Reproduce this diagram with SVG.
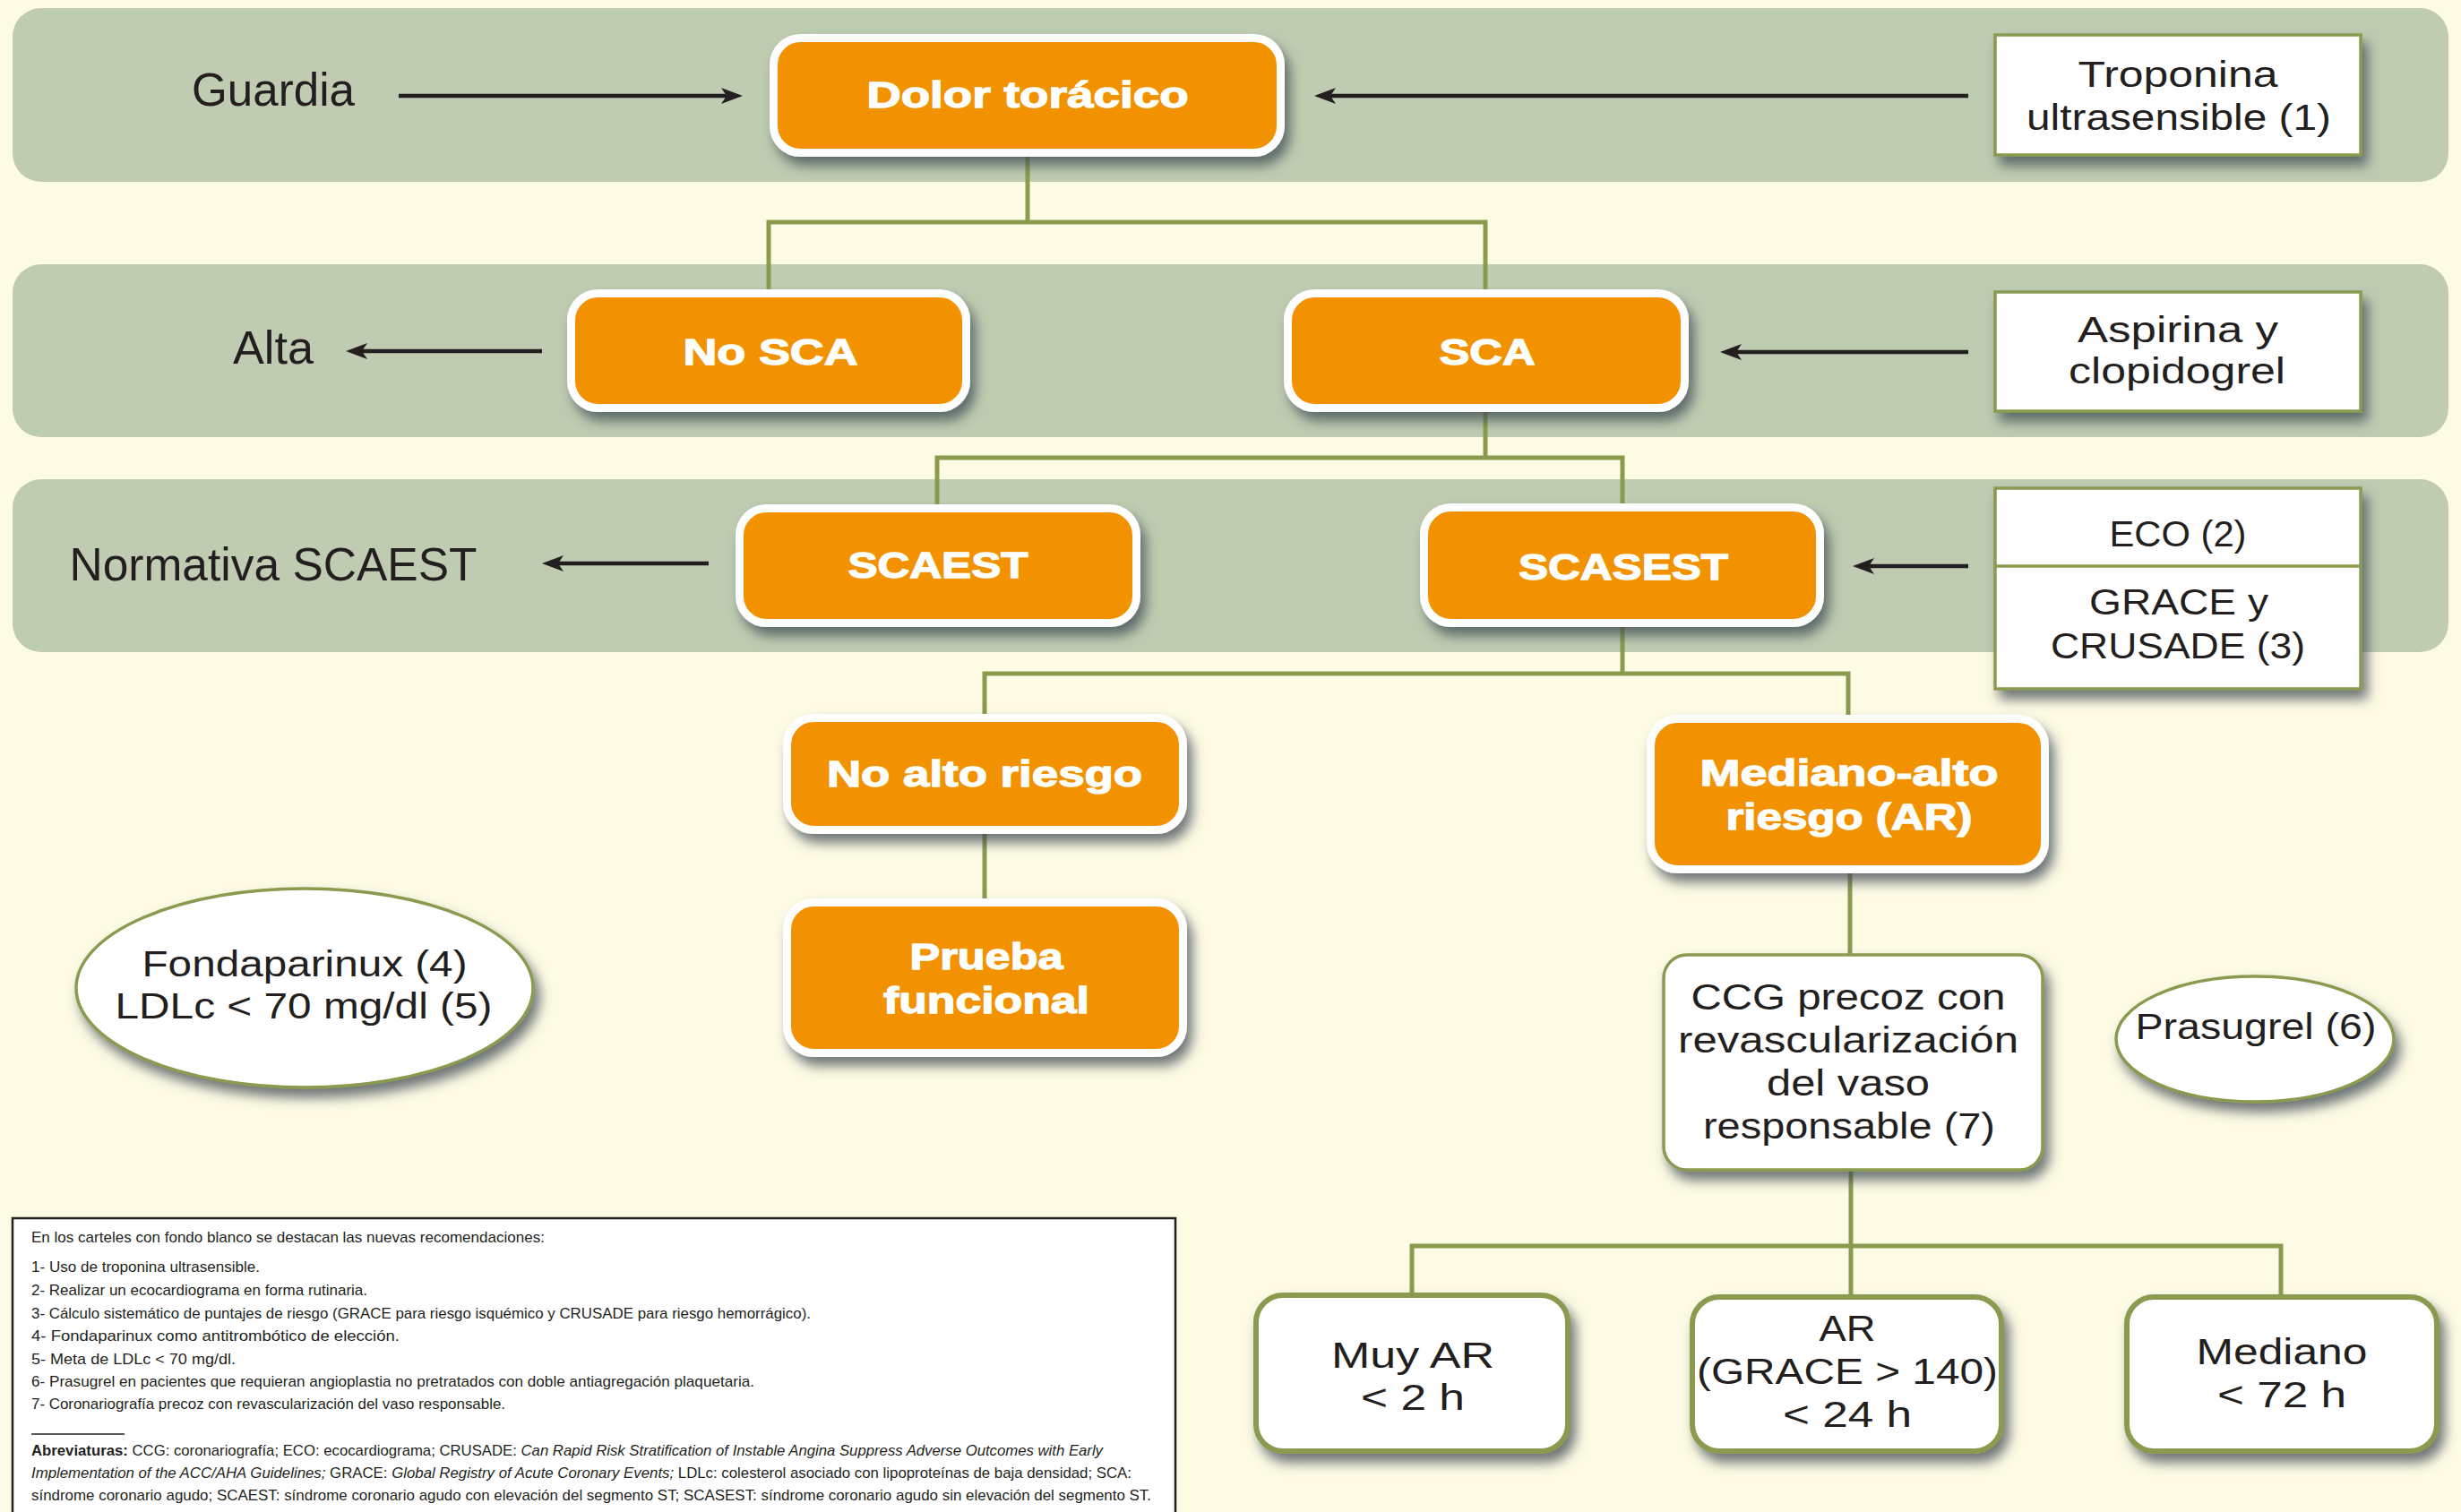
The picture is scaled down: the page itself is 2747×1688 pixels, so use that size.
<svg xmlns="http://www.w3.org/2000/svg" width="2747" height="1688" viewBox="0 0 2747 1688">
<defs>
<style>
.band{fill:#BFCCB1}
.ob{fill:#F29200;stroke:#FFFFFF;stroke-width:9}
.ot{font-family:"Liberation Sans",Arial,sans-serif;font-weight:bold;font-size:41px;fill:#FFFFFF;stroke:#FFFFFF;stroke-width:1.3;text-anchor:middle}
.wb{fill:#FFFFFF;stroke:#8A9B4F;stroke-width:3.5}
.wb2{fill:#FFFFFF;stroke:#8A9B4F;stroke-width:6}
.wt{font-family:"Liberation Sans",Arial,sans-serif;font-size:40px;fill:#231F20;text-anchor:middle}
.lab{font-family:"Liberation Sans",Arial,sans-serif;font-size:52px;fill:#231F20;text-anchor:middle}
.con{fill:none;stroke:#8A9B4F;stroke-width:5}
.arr{fill:none;stroke:#231F20;stroke-width:4.5}
.fn{font-family:"Liberation Sans",Arial,sans-serif;font-size:17px;fill:#231F20}
</style>
<filter id="sh" x="-10%" y="-15%" width="125%" height="145%">
<feDropShadow dx="6" dy="10" stdDeviation="7" flood-color="#3d4b52" flood-opacity="0.75"/>
</filter>
<marker id="ah" markerUnits="userSpaceOnUse" markerWidth="26" markerHeight="20" refX="12" refY="9" orient="auto">
<path d="M0,0 L24,9 L0,18 L6,9 z" fill="#231F20"/>
</marker>
</defs>
<rect x="0" y="0" width="2747" height="1688" fill="#FEFBE5"/>
<g id="bands">
<rect class="band" x="14" y="9" width="2719" height="194" rx="32"/>
<rect class="band" x="14" y="295" width="2719" height="193" rx="32"/>
<rect class="band" x="14" y="535" width="2719" height="193" rx="32"/>
</g>
<g id="connectors">
<path class="con" d="M1147,175 V248 M858,323 V248 H1658 V323"/>
<path class="con" d="M1658,460 V511 M1046,563 V511 H1811 V562"/>
<path class="con" d="M1811,700 V752 M1099,797 V752 H2063 V798"/>
<path class="con" d="M1099,931 V1003"/>
<path class="con" d="M2065,975 V1066"/>
<path class="con" d="M2066,1306 V1445 M1576,1443 V1391 H2546 V1445"/>
<line class="arr" x1="445" y1="107" x2="817" y2="107" marker-end="url(#ah)"/>
<line class="arr" x1="2197" y1="107" x2="1479" y2="107" marker-end="url(#ah)"/>
<line class="arr" x1="605" y1="392" x2="398" y2="392" marker-end="url(#ah)"/>
<line class="arr" x1="2197" y1="393" x2="1932" y2="393" marker-end="url(#ah)"/>
<line class="arr" x1="791" y1="629" x2="617" y2="629" marker-end="url(#ah)"/>
<line class="arr" x1="2197" y1="632" x2="2080" y2="632" marker-end="url(#ah)"/>
</g>
<g id="label-guardia"><text class="lab" x="305" y="118" textLength="182" lengthAdjust="spacingAndGlyphs">Guardia</text></g>
<g id="label-alta"><text class="lab" x="305" y="406" textLength="90" lengthAdjust="spacingAndGlyphs">Alta</text></g>
<g id="label-normativa"><text class="lab" x="305" y="648" textLength="455" lengthAdjust="spacingAndGlyphs">Normativa SCAEST</text></g>
<g id="dolor">
<rect class="ob" x="863.5" y="42.5" width="566" height="128" rx="30" filter="url(#sh)"/>
<text class="ot" x="1147" y="120" textLength="359" lengthAdjust="spacingAndGlyphs">Dolor torácico</text>
</g>
<g id="nosca">
<rect class="ob" x="637.5" y="327.5" width="441" height="128" rx="30" filter="url(#sh)"/>
<text class="ot" x="860" y="407" textLength="195" lengthAdjust="spacingAndGlyphs">No SCA</text>
</g>
<g id="sca">
<rect class="ob" x="1437.5" y="327.5" width="443" height="128" rx="30" filter="url(#sh)"/>
<text class="ot" x="1660" y="407" textLength="107" lengthAdjust="spacingAndGlyphs">SCA</text>
</g>
<g id="scaest">
<rect class="ob" x="825.5" y="567.5" width="443" height="128" rx="30" filter="url(#sh)"/>
<text class="ot" x="1047" y="645" textLength="201" lengthAdjust="spacingAndGlyphs">SCAEST</text>
</g>
<g id="scasest">
<rect class="ob" x="1589.5" y="566.5" width="442" height="129" rx="30" filter="url(#sh)"/>
<text class="ot" x="1812" y="647" textLength="234" lengthAdjust="spacingAndGlyphs">SCASEST</text>
</g>
<g id="noalto">
<rect class="ob" x="878.5" y="801.5" width="442" height="125" rx="30" filter="url(#sh)"/>
<text class="ot" x="1099" y="878" textLength="352" lengthAdjust="spacingAndGlyphs">No alto riesgo</text>
</g>
<g id="prueba">
<rect class="ob" x="878.5" y="1007.5" width="442" height="168" rx="30" filter="url(#sh)"/>
<text class="ot" x="1101" y="1082" textLength="171" lengthAdjust="spacingAndGlyphs">Prueba</text>
<text class="ot" x="1101" y="1131" textLength="230" lengthAdjust="spacingAndGlyphs">funcional</text>
</g>
<g id="medianoalto">
<rect class="ob" x="1842.5" y="802.5" width="440" height="168" rx="30" filter="url(#sh)"/>
<text class="ot" x="2064" y="877" textLength="333" lengthAdjust="spacingAndGlyphs">Mediano-alto</text>
<text class="ot" x="2064" y="926" textLength="275" lengthAdjust="spacingAndGlyphs">riesgo (AR)</text>
</g>
<g id="troponina">
<rect class="wb" x="2227" y="39" width="408" height="134" filter="url(#sh)"/>
<text class="wt" x="2431" y="97" textLength="223" lengthAdjust="spacingAndGlyphs">Troponina</text>
<text class="wt" x="2432" y="145" textLength="340" lengthAdjust="spacingAndGlyphs">ultrasensible (1)</text>
</g>
<g id="aspirina">
<rect class="wb" x="2227" y="326" width="408" height="133" filter="url(#sh)"/>
<text class="wt" x="2431" y="382" textLength="224" lengthAdjust="spacingAndGlyphs">Aspirina y</text>
<text class="wt" x="2430" y="428" textLength="242" lengthAdjust="spacingAndGlyphs">clopidogrel</text>
</g>
<g id="eco-grace">
<rect class="wb" x="2227" y="545" width="408" height="224" filter="url(#sh)"/>
<line x1="2227" y1="632" x2="2635" y2="632" stroke="#8A9B4F" stroke-width="3.5"/>
<text class="wt" x="2431" y="610" textLength="153" lengthAdjust="spacingAndGlyphs">ECO (2)</text>
<text class="wt" x="2432" y="686" textLength="200" lengthAdjust="spacingAndGlyphs">GRACE y</text>
<text class="wt" x="2431" y="735" textLength="284" lengthAdjust="spacingAndGlyphs">CRUSADE (3)</text>
</g>
<g id="fondaparinux">
<ellipse cx="340" cy="1103" rx="255" ry="111" fill="#FFFFFF" stroke="#8A9B4F" stroke-width="3.5" filter="url(#sh)"/>
<text class="wt" x="340" y="1090" textLength="363" lengthAdjust="spacingAndGlyphs">Fondaparinux (4)</text>
<text class="wt" x="339" y="1137" textLength="421" lengthAdjust="spacingAndGlyphs">LDLc &lt; 70 mg/dl (5)</text>
</g>
<g id="ccg">
<rect class="wb" x="1857" y="1066" width="423" height="240" rx="26" filter="url(#sh)"/>
<text class="wt" x="2063" y="1127" textLength="351" lengthAdjust="spacingAndGlyphs">CCG precoz con</text>
<text class="wt" x="2063" y="1175" textLength="380" lengthAdjust="spacingAndGlyphs">revascularización</text>
<text class="wt" x="2063" y="1223" textLength="182" lengthAdjust="spacingAndGlyphs">del vaso</text>
<text class="wt" x="2064" y="1271" textLength="326" lengthAdjust="spacingAndGlyphs">responsable (7)</text>
</g>
<g id="prasugrel">
<ellipse cx="2517" cy="1160" rx="155" ry="70" fill="#FFFFFF" stroke="#8A9B4F" stroke-width="3.5" filter="url(#sh)"/>
<text class="wt" x="2518" y="1160" textLength="269" lengthAdjust="spacingAndGlyphs">Prasugrel (6)</text>
</g>
<g id="muyar">
<rect class="wb2" x="1402" y="1446" width="348" height="174" rx="30" filter="url(#sh)"/>
<text class="wt" x="1577" y="1527" textLength="182" lengthAdjust="spacingAndGlyphs">Muy AR</text>
<text class="wt" x="1577" y="1574" textLength="116" lengthAdjust="spacingAndGlyphs">&lt; 2 h</text>
</g>
<g id="ar">
<rect class="wb2" x="1889" y="1448" width="345" height="172" rx="30" filter="url(#sh)"/>
<text class="wt" x="2062" y="1497" textLength="63" lengthAdjust="spacingAndGlyphs">AR</text>
<text class="wt" x="2062" y="1545" textLength="336" lengthAdjust="spacingAndGlyphs">(GRACE &gt; 140)</text>
<text class="wt" x="2062" y="1593" textLength="144" lengthAdjust="spacingAndGlyphs">&lt; 24 h</text>
</g>
<g id="mediano">
<rect class="wb2" x="2374" y="1448" width="346" height="172" rx="30" filter="url(#sh)"/>
<text class="wt" x="2547" y="1523" textLength="191" lengthAdjust="spacingAndGlyphs">Mediano</text>
<text class="wt" x="2547" y="1571" textLength="144" lengthAdjust="spacingAndGlyphs">&lt; 72 h</text>
</g>
<g id="footnote">
<rect x="14" y="1360" width="1298" height="340" fill="#FFFFFF" stroke="#231F20" stroke-width="2.5"/>
<text class="fn" x="35" y="1387" textLength="573" lengthAdjust="spacingAndGlyphs">En los carteles con fondo blanco se destacan las nuevas recomendaciones:</text>
<text class="fn" x="35" y="1420" textLength="255" lengthAdjust="spacingAndGlyphs">1- Uso de troponina ultrasensible.</text>
<text class="fn" x="35" y="1446" textLength="375" lengthAdjust="spacingAndGlyphs">2- Realizar un ecocardiograma en forma rutinaria.</text>
<text class="fn" x="35" y="1472" textLength="870" lengthAdjust="spacingAndGlyphs">3- Cálculo sistemático de puntajes de riesgo (GRACE para riesgo isquémico y CRUSADE para riesgo hemorrágico).</text>
<text class="fn" x="35" y="1497" textLength="411" lengthAdjust="spacingAndGlyphs">4- Fondaparinux como antitrombótico de elección.</text>
<text class="fn" x="35" y="1523" textLength="228" lengthAdjust="spacingAndGlyphs">5- Meta de LDLc &lt; 70 mg/dl.</text>
<text class="fn" x="35" y="1548" textLength="807" lengthAdjust="spacingAndGlyphs">6- Prasugrel en pacientes que requieran angioplastia no pretratados con doble antiagregación plaquetaria.</text>
<text class="fn" x="35" y="1573" textLength="529" lengthAdjust="spacingAndGlyphs">7- Coronariografía precoz con revascularización del vaso responsable.</text>
<line x1="35" y1="1601" x2="139" y2="1601" stroke="#231F20" stroke-width="1.5"/>
<text class="fn" x="35" y="1625" textLength="1196" lengthAdjust="spacingAndGlyphs"><tspan font-weight="bold">Abreviaturas:</tspan> CCG: coronariografía; ECO: ecocardiograma; CRUSADE: <tspan font-style="italic">Can Rapid Risk Stratification of Instable Angina Suppress Adverse Outcomes with Early</tspan></text>
<text class="fn" x="35" y="1650" textLength="1228" lengthAdjust="spacingAndGlyphs"><tspan font-style="italic">Implementation of the ACC/AHA Guidelines;</tspan> GRACE: <tspan font-style="italic">Global Registry of Acute Coronary Events;</tspan> LDLc: colesterol asociado con lipoproteínas de baja densidad; SCA:</text>
<text class="fn" x="35" y="1675" textLength="1250" lengthAdjust="spacingAndGlyphs">síndrome coronario agudo; SCAEST: síndrome coronario agudo con elevación del segmento ST; SCASEST: síndrome coronario agudo sin elevación del segmento ST.</text>
</g>
</svg>
